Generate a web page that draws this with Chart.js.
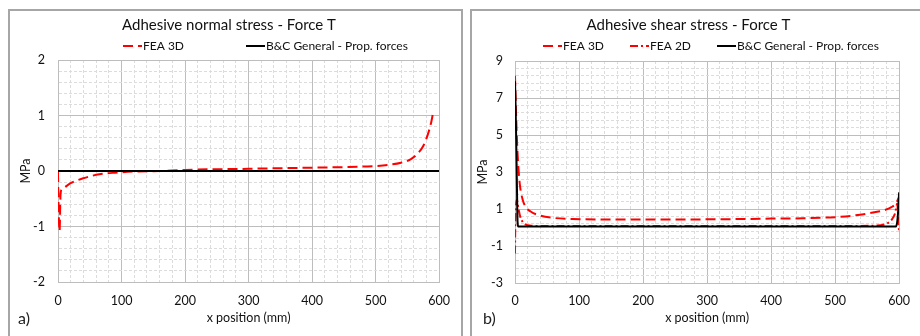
<!DOCTYPE html>
<html>
<head>
<meta charset="utf-8">
<script src="https://cdn.jsdelivr.net/npm/chart.js@4/dist/chart.umd.min.js"></script>
<style>
  body { margin: 0; width: 920px; height: 336px; overflow: hidden; background: #fff; font-family: Lato, sans-serif; }
  .frame { position: absolute; top: 9px; height: 329px; border: 2px solid #a6a6a6; box-sizing: border-box; background: #fff; }
  #f1 { left: 8px; width: 455px; }
  #f2 { left: 470px; width: 462px; }
  .frame canvas { position: absolute; left: 0; top: 0; }
  .tag { position: absolute; font-size: 16px; color: #222; line-height: 1; }
</style>
</head>
<body>
<div class="frame" id="f1"><canvas id="normalChart" width="451" height="323"></canvas></div>
<div class="frame" id="f2"><canvas id="shearChart" width="448" height="323"></canvas></div>
<div class="tag" style="left:18px;top:310px">a)</div>
<div class="tag" style="left:483px;top:310px">b)</div>
<script>
// x ticks (mm)
const xLabels = [0, 100, 200, 300, 400, 500, 600];

// normal stress panel
const normalYTicks = [-2, -1, 0, 1, 2];
const normalX = [0, 1, 2.5, 4, 6, 10, 20, 40, 65, 90, 120, 160, 200, 300, 400, 450, 500, 520, 540, 555, 565, 575, 582, 587, 591];
const normalFea3d = [-0.02, -0.7, -1.08, -0.42, -0.33, -0.3, -0.22, -0.13, -0.06, -0.03, -0.01, 0, 0.02, 0.04, 0.06, 0.07, 0.09, 0.11, 0.15, 0.21, 0.3, 0.45, 0.65, 0.85, 1.08];
const normalBcX = [0, 600];
const normalBc = [0, 0];

// shear stress panel
const shearYTicks = [-3, -1, 1, 3, 5, 7, 9];
const shearX3d = [0, 1, 2, 3, 4, 6, 8, 12, 16, 25, 36, 60, 90, 150, 300, 400, 450, 500, 530, 555, 575, 588, 595, 600];
const shearFea3d = [8.2, 7.0, 5.8, 4.8, 4.0, 2.9, 2.2, 1.5, 1.15, 0.85, 0.68, 0.52, 0.46, 0.43, 0.44, 0.48, 0.5, 0.56, 0.65, 0.78, 0.92, 1.1, 1.3, 1.65];
const shearX2d = [0, 0.5, 1.5, 3, 5, 8, 12, 17, 25, 40, 100, 300, 500, 560, 580, 588, 594, 597, 598.5, 600];
const shearFea2d = [-1.4, 0.2, 1.2, 1.5, 1.1, 0.6, 0.3, 0.15, 0.1, 0.08, 0.08, 0.08, 0.08, 0.1, 0.2, 0.4, 0.8, 1.3, 0.6, -0.3];
const shearBcX = [0, 1, 2, 3, 4, 5, 300, 595, 597, 598.5, 600];
const shearBc = [7.9, 6.5, 4.5, 2.3, 0.3, 0.05, 0.05, 0.05, 0.3, 0.9, 1.9];

Chart.defaults.font.family = 'Lato';
Chart.defaults.color = '#222';

const pts = (xs, ys) => xs.map((x, i) => ({ x: x, y: ys[i] }));

const lineLegend = {
  id: 'lineLegend',
  afterDraw(chart, args, opts) {
    const ctx = chart.ctx;
    let x = opts.x;
    ctx.save();
    ctx.font = '12px Lato';
    ctx.textBaseline = 'middle';
    chart.data.datasets.forEach(ds => {
      ctx.strokeStyle = ds.borderColor;
      ctx.lineWidth = ds.borderWidth;
      ctx.setLineDash(ds.borderDash || []);
      ctx.beginPath();
      ctx.moveTo(x, opts.y);
      ctx.lineTo(x + 19, opts.y);
      ctx.stroke();
      ctx.setLineDash([]);
      ctx.fillStyle = '#111';
      ctx.fillText(ds.label, x + 20, opts.y);
      x += 20 + ctx.measureText(ds.label).width + opts.gap;
    });
    ctx.restore();
  }
};

function line(label, data, color, dash, order) {
  return {
    label: label, data: data, borderColor: color, backgroundColor: color,
    borderWidth: 2, borderDash: dash, pointRadius: 0,
    tension: 0.4, cubicInterpolationMode: 'monotone', order: order || 0
  };
}

function makeChart(id, title, datasets, yTicks, yStep, pad, titlePad, legendX, legendGap, yTickPad, xTickPad, xHeight) {
  const isMajorY = v => yTicks.some(t => Math.abs(t - v) < 1e-6);
  new Chart(document.getElementById(id), {
    type: 'line',
    data: { datasets: datasets },
    options: {
      responsive: false,
      animation: false,
      events: [],
      layout: { padding: pad },
      plugins: {
        legend: { display: false },
        tooltip: { enabled: false },
        title: {
          display: true, text: title, color: '#111',
          font: { size: 15, weight: 'normal' },
          padding: { top: 5, bottom: titlePad }
        },
        lineLegend: { x: legendX, y: 35, gap: legendGap }
      },
      scales: {
        x: {
          type: 'linear', min: 0, max: 600,
          afterFit: s => { s.height = xHeight; },
          ticks: {
            stepSize: 20, autoSkip: false, maxRotation: 0, padding: xTickPad,
            color: '#111', font: { size: 12.5 },
            callback: v => xLabels.includes(v) ? String(v) : ''
          },
          grid: {
            drawTicks: false, lineWidth: 1,
            color: c => (c.tick && xLabels.includes(c.tick.value)) ? '#bdbdbd' : '#dcdcdc'
          },
          border: {
            color: '#bdbdbd',
            dash: c => (c.tick && !xLabels.includes(c.tick.value)) ? [3, 2] : []
          },
          title: { display: true, text: 'x position (mm)', color: '#111', font: { size: 12.5 }, padding: { top: 0, bottom: 1 } }
        },
        y: {
          min: yTicks[0], max: yTicks[yTicks.length - 1],
          afterFit: s => { s.width = 40; },
          ticks: {
            stepSize: yStep, autoSkip: false, padding: yTickPad,
            color: '#111', font: { size: 12.5 },
            callback: v => isMajorY(v) ? String(Math.round(v)) : ''
          },
          grid: {
            drawTicks: false, lineWidth: 1,
            color: c => (c.tick && isMajorY(c.tick.value)) ? '#bdbdbd' : '#dcdcdc'
          },
          border: {
            color: '#bdbdbd',
            dash: c => (c.tick && !isMajorY(c.tick.value)) ? [3, 2] : []
          },
          title: { display: true, text: 'MPa', color: '#111', font: { size: 12.5 }, padding: { top: 0, bottom: 0 } }
        }
      }
    },
    plugins: [lineLegend]
  });
}

makeChart('normalChart', 'Adhesive normal stress - Force T', [
  line('FEA 3D', pts(normalX, normalFea3d), '#ff0000', [10, 5]),
  line('B&C General - Prop. forces', pts(normalBcX, normalBc), '#000000', [], -1)
], normalYTicks, 0.2, { left: 8, right: 21, top: 0, bottom: 8 }, 26, 113, 62, 13, 11, 44);

makeChart('shearChart', 'Adhesive shear stress - Force T', [
  line('FEA 3D', pts(shearX3d, shearFea3d), '#ff0000', [10, 5]),
  line('FEA 2D', pts(shearX2d, shearFea2d), '#ff0000', [8, 3, 2, 3]),
  line('B&C General - Prop. forces', pts(shearBcX, shearBc), '#000000', [], -1)
], shearYTicks, 0.4, { left: 3, right: 18, top: 0, bottom: 8 }, 27, 71, 26, 12, 10, 43);
</script>
</body>
</html>
